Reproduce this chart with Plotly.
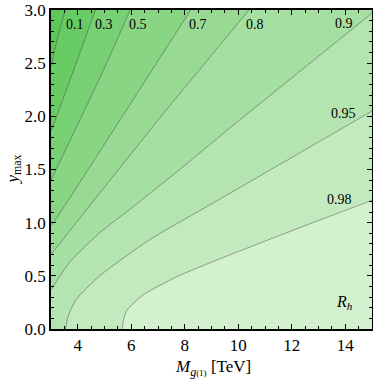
import plotly.graph_objects as go

# axis ranges
x_range = [3.0, 15.0]
y_range = [0.0, 3.0]

# contour levels and iso-lines (M in TeV, y_max)
levels = [0.1, 0.3, 0.5, 0.7, 0.8, 0.9, 0.95, 0.98]

line_01_M = [3.0, 3.26, 3.53]
line_01_y = [2.47, 2.75, 3.0]
line_03_M = [3.0, 3.30, 3.94, 4.66]
line_03_y = [1.86, 2.06, 2.50, 3.0]
line_05_M = [3.0, 4.26, 5.08, 5.96]
line_05_y = [1.40, 2.06, 2.50, 3.0]
line_07_M = [3.0, 3.20, 5.82, 8.22]
line_07_y = [0.975, 1.04, 2.06, 3.0]
line_08_M = [3.0, 4.07, 7.31, 8.56, 10.4]
line_08_y = [0.70, 1.04, 2.06, 2.44, 3.0]
line_09_M = [3.0, 3.70, 4.80, 6.07, 7.81, 10.05, 15.0]
line_09_y = [0.37, 0.63, 0.90, 1.15, 1.50, 1.965, 2.97]
line_095_M = [3.55, 3.64, 3.95, 4.82, 6.69, 8.75, 14.42, 15.0]
line_095_y = [0.0, 0.12, 0.28, 0.50, 0.84, 1.14, 1.965, 2.05]
line_098_M = [5.66, 5.70, 5.82, 6.44, 7.69, 9.31, 12.79, 15.0]
line_098_y = [0.0, 0.07, 0.17, 0.32, 0.49, 0.66, 1.00, 1.21]

lines_M = [line_01_M, line_03_M, line_05_M, line_07_M, line_08_M, line_09_M, line_095_M, line_098_M]
lines_y = [line_01_y, line_03_y, line_05_y, line_07_y, line_08_y, line_09_y, line_095_y, line_098_y]

# label positions (level text, M, y)
label_text = ["0.1", "0.3", "0.5", "0.7", "0.8", "0.9", "0.95", "0.98"]
label_M = [3.89, 4.99, 6.26, 8.50, 10.61, 13.96, 13.94, 13.77]
label_y = [2.86, 2.86, 2.86, 2.86, 2.86, 2.875, 2.03, 1.215]

x_ticks = [4, 6, 8, 10, 12, 14]
y_ticks = [0.0, 0.5, 1.0, 1.5, 2.0, 2.5, 3.0]
y_tick_text = ["0.0", "0.5", "1.0", "1.5", "2.0", "2.5", "3.0"]

bg_color = "#5dc759"
fill_colors = ["#68cb64", "#78d074", "#88d584", "#98da94", "#a6dfa2",
               "#b4e4b0", "#c3eabf", "#d3f0cf"]

serif = "Liberation Serif, Times New Roman, serif"

fig = go.Figure()

x0, x1 = x_range
y0, y1 = y_range

for M, y, col in zip(lines_M, lines_y, fill_colors):
    px = list(M)
    py = list(y)
    # close the region with R above the level (lower-right side)
    if py[-1] >= y1 - 1e-9:  # ends on top edge
        px += [x1, x1]
        py += [y1, y0]
    else:  # ends on right edge
        px += [x1]
        py += [y0]
    if px[0] <= x0 + 1e-9:  # starts on left edge
        px += [x0, px[0]]
        py += [y0, py[0]]
    else:
        px += [px[0]]
        py += [py[0]]
    fig.add_trace(go.Scatter(x=px, y=py, mode="lines", fill="toself",
                             fillcolor=col, line=dict(width=0),
                             hoverinfo="skip", showlegend=False))

for M, y in zip(lines_M, lines_y):
    fig.add_trace(go.Scatter(x=M, y=y, mode="lines",
                             line=dict(color="rgba(60,60,60,0.55)", width=0.8,
                                       shape="spline", smoothing=0.6),
                             hoverinfo="skip", showlegend=False))

for t, m, yy in zip(label_text, label_M, label_y):
    fig.add_annotation(x=m, y=yy, text=t, showarrow=False,
                       font=dict(family=serif, size=14, color="black"),
                       xanchor="center", yanchor="middle")

fig.add_annotation(x=13.98, y=0.25, text="<i>R</i><sub><i>h</i></sub>",
                   showarrow=False, font=dict(family=serif, size=16, color="black"),
                   xanchor="center", yanchor="middle")

# axis titles as annotations for exact placement
fig.add_annotation(xref="paper", yref="paper", x=0.505, y=0, yshift=-26,
                   text="<i>M</i><sub><i>g</i><span style='font-size:9px'>(1)</span></sub> [TeV]",
                   showarrow=False, font=dict(family=serif, size=17, color="black"),
                   xanchor="center", yanchor="top")
fig.add_annotation(xref="paper", yref="paper", x=0, xshift=-38, y=0.5,
                   text="<i>y</i><sub>max</sub>", textangle=-90,
                   showarrow=False, font=dict(family=serif, size=17, color="black"),
                   xanchor="center", yanchor="middle")

axis_common = dict(showline=True, linecolor="black", linewidth=1.5, mirror="ticks",
                   ticks="inside", ticklen=5, tickwidth=1.2, tickcolor="black",
                   showgrid=False, zeroline=False, automargin=False,
                   tickfont=dict(family=serif, size=17, color="black"))

fig.update_xaxes(range=x_range, tickvals=x_ticks, **axis_common,
                 minor=dict(dtick=0.5, ticks="inside", ticklen=3, tickcolor="black",
                            showgrid=False))
fig.update_yaxes(range=y_range, tickvals=y_ticks, ticktext=y_tick_text, **axis_common,
                 minor=dict(dtick=0.1, ticks="inside", ticklen=3, tickcolor="black",
                            showgrid=False))

fig.update_layout(width=373, height=381,
                  margin=dict(l=51, r=1, t=10, b=52, autoexpand=False),
                  plot_bgcolor=bg_color, paper_bgcolor="white")

# remove the default 8px page margin so the figure fills the window exactly
fig.write_html("out.html", config={"displayModeBar": False},
               post_script="document.body.style.margin='0';document.body.style.overflow='hidden';")
